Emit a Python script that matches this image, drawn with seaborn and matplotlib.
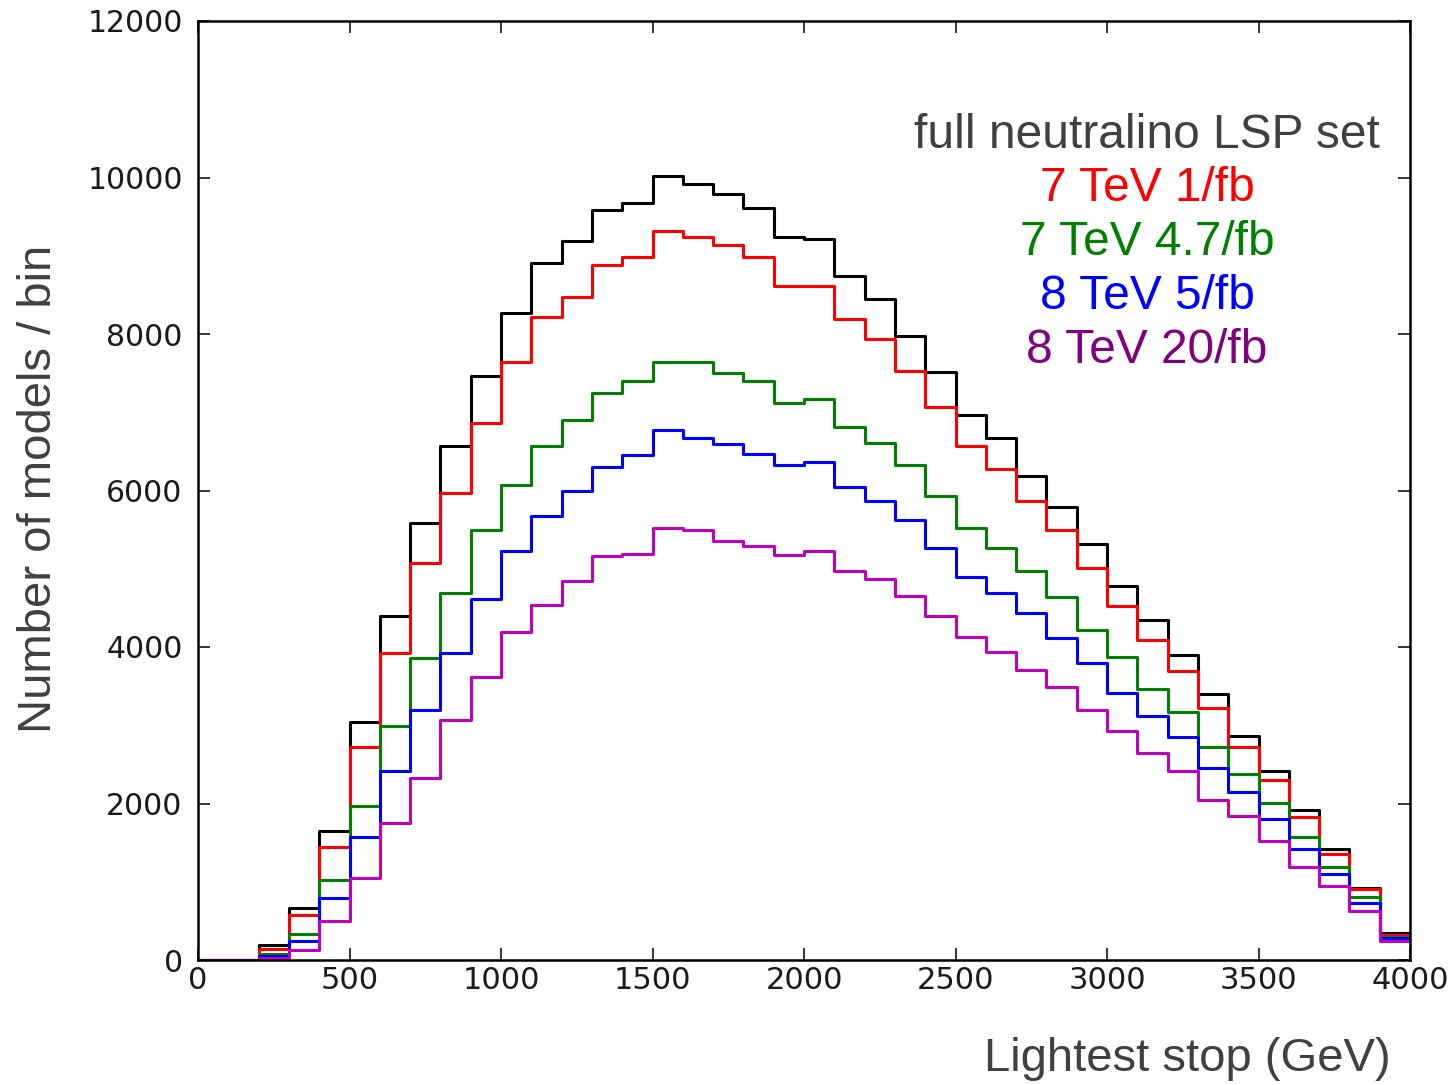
import numpy as np
import pandas as pd
import matplotlib
matplotlib.use("Agg")
import matplotlib.pyplot as plt
import seaborn as sns

# ---- data (counts per 100 GeV bin, 0..4000 GeV) ----
bin_edges = list(range(0, 4001, 100))

full_set = [0, 0, 190, 668, 1647, 3045, 4395, 5590, 6568, 7462,
            8266, 8909, 9190, 9590, 9671, 10020, 9918, 9790, 9616, 9242,
            9216, 8739, 8450, 7973, 7515, 6966, 6670, 6189, 5793, 5321,
            4785, 4342, 3895, 3395, 2864, 2414, 1916, 1413, 919, 340]
tev7_1fb = [0, 0, 140, 575, 1447, 2724, 3922, 5072, 5970, 6866,
            7645, 8220, 8471, 8888, 8990, 9318, 9245, 9143, 8986, 8616,
            8616, 8195, 7939, 7521, 7070, 6568, 6270, 5865, 5491, 5014,
            4521, 4095, 3694, 3222, 2724, 2295, 1826, 1349, 902, 319]
tev7_47fb = [0, 0, 77, 328, 1022, 1967, 2993, 3865, 4693, 5491,
             6072, 6568, 6896, 7245, 7398, 7645, 7645, 7500, 7398, 7122,
             7168, 6815, 6611, 6321, 5925, 5517, 5263, 4971, 4639, 4222,
             3874, 3461, 3171, 2724, 2371, 2001, 1567, 1192, 800, 298]
tev8_5fb = [0, 0, 55, 247, 796, 1571, 2418, 3201, 3925, 4615,
            5223, 5672, 5994, 6300, 6449, 6768, 6675, 6595, 6470, 6325,
            6364, 6044, 5865, 5619, 5270, 4891, 4693, 4440, 4121, 3797,
            3418, 3120, 2844, 2448, 2142, 1797, 1417, 1094, 724, 277]
tev8_20fb = [0, 0, 20, 123, 498, 1051, 1745, 2320, 3070, 3618,
             4197, 4542, 4848, 5163, 5193, 5521, 5499, 5360, 5291, 5172,
             5223, 4971, 4874, 4652, 4400, 4129, 3937, 3712, 3490, 3192,
             2924, 2640, 2418, 2043, 1843, 1524, 1192, 945, 626, 247]

series_names = ["full neutralino LSP set", "7 TeV 1/fb", "7 TeV 4.7/fb",
                "8 TeV 5/fb", "8 TeV 20/fb"]
series_values = [full_set, tev7_1fb, tev7_47fb, tev8_5fb, tev8_20fb]
line_colors = ["black", "red", "#008000", "blue", "#bf00bf"]
text_colors = ["#404040", "red", "#008000", "blue", "#800080"]

xticks = [0, 500, 1000, 1500, 2000, 2500, 3000, 3500, 4000]
yticks = [0, 2000, 4000, 6000, 8000, 10000, 12000]

# ---- plot ----
sns.set_theme(style="white")
plt.rcParams["font.family"] = ["Liberation Sans", "DejaVu Sans"]

fig = plt.figure(figsize=(14.52, 10.85), dpi=100)
ax = fig.add_axes([198 / 1452, 1 - 960 / 1085, (1410 - 198) / 1452, (960 - 21) / 1085])

centers = [(a + b) / 2 for a, b in zip(bin_edges[:-1], bin_edges[1:])]
for name, vals, col in zip(series_names, series_values, line_colors):
    df = pd.DataFrame({"x": centers, "w": vals})
    sns.histplot(data=df, x="x", weights="w", bins=bin_edges, element="step",
                 fill=False, color=col, linewidth=2.2, ax=ax)

ax.set_xlim(0, 4000)
ax.set_ylim(0, 12000)
ax.set_xticks(xticks)
ax.set_yticks(yticks)
ax.set_xticklabels([str(t) for t in xticks])
ax.set_yticklabels([str(t) for t in yticks])
ax.set_xlabel("")
ax.set_ylabel("")

for sp in ax.spines.values():
    sp.set_visible(True)
    sp.set_color("black")
    sp.set_linewidth(1.8)

ax.tick_params(axis="both", which="major", direction="in", length=8.5, width=1.1,
               color="black", top=True, right=True, bottom=True, left=True)
ax.tick_params(axis="x", pad=4)
ax.tick_params(axis="y", pad=11)

for lab in ax.get_xticklabels():
    lab.set_fontfamily("DejaVu Sans")
    lab.set_fontsize(22)
    lab.set_color("#1a1a1a")
for lab in ax.get_yticklabels():
    lab.set_fontfamily("DejaVu Sans")
    lab.set_fontsize(21.5)
    lab.set_color("#1a1a1a")

fig.text(1187 / 1452, 1 - 1071 / 1085, "Lightest stop (GeV)", ha="center",
         va="baseline", fontsize=34, color="#404040", family="Liberation Sans")
fig.text(39 / 1452, 1 - 489 / 1085, "Number of models / bin", ha="center",
         va="center", rotation=90, fontsize=34, color="#404040",
         family="Liberation Sans")

baselines = [148, 201, 255, 309, 363]
for name, col, b in zip(series_names, text_colors, baselines):
    fig.text(1147 / 1452, 1 - b / 1085, name, ha="center", va="baseline",
             fontsize=34.5, color=col, family="Liberation Sans")

fig.savefig("out.png", dpi=100, facecolor="white")
